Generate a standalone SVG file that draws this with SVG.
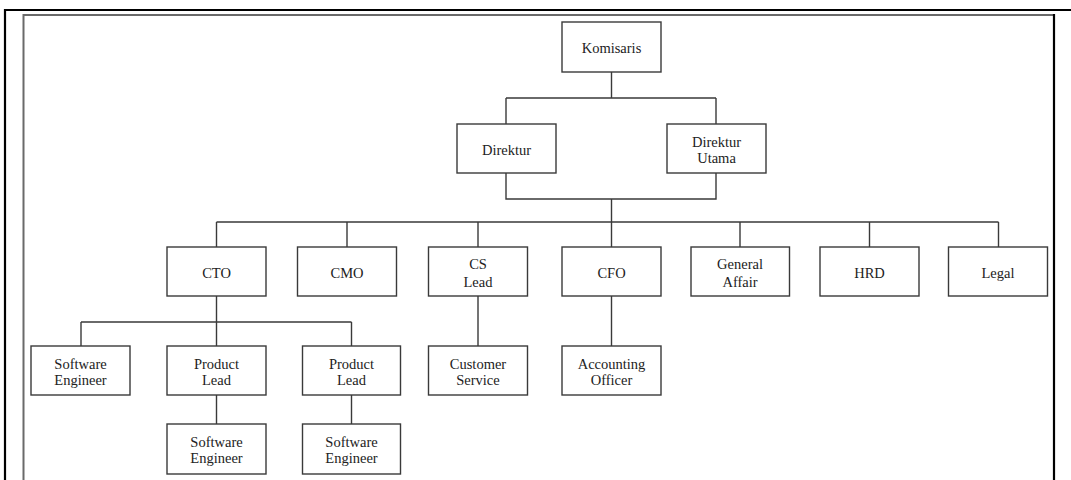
<svg xmlns="http://www.w3.org/2000/svg" width="1071" height="480" viewBox="0 0 1071 480">
<style>
.box{fill:#fff;stroke:#3a3a3a;stroke-width:1.4}
.t{font-family:"Liberation Serif","Times New Roman",serif;font-size:14.5px;fill:#222;text-anchor:middle}
.c{fill:none;stroke:#3a3a3a;stroke-width:1.4}
</style>
<rect width="1071" height="480" fill="#fff"/>
<g id="frame">
<path d="M5 480 V10 H1071" fill="none" stroke="#000" stroke-width="2.2"/>
<path d="M23.5 480 V15 H1054" fill="none" stroke="#6a6a6a" stroke-width="2"/>
<path d="M1054 14 V480" fill="none" stroke="#000" stroke-width="2.2"/>
</g>
<g id="connectors" class="c">
<path d="M611.5 72 V98 M506 98 H716 M506 98 V124 M716 98 V124"/>
<path d="M506 173 V199 H716 V173 M611.5 199 V222"/>
<path d="M216.5 222 H998.5 M216.5 222 V247 M347 222 V247 M478 222 V247 M611.5 222 V247 M740 222 V247 M869.5 222 V247 M998.5 222 V247"/>
<path d="M216.5 296 V322 M81 322 H351.5 M81 322 V346 M216.5 322 V346 M351.5 322 V346"/>
<path d="M216.5 395 V424 M351.5 395 V424"/>
<path d="M478 296 V346 M611.5 296 V346"/>
</g>
<g id="komisaris"><rect class="box" x="562" y="22" width="99" height="50"/><text class="t" x="611.5" y="53">Komisaris</text></g>
<g id="direktur"><rect class="box" x="457" y="124" width="99" height="49"/><text class="t" x="506.5" y="155">Direktur</text></g>
<g id="direktur-utama"><rect class="box" x="667" y="124" width="99" height="49"/><text class="t" x="716.5" y="146.5">Direktur</text><text class="t" x="716.5" y="163">Utama</text></g>
<g id="cto"><rect class="box" x="167" y="247" width="99" height="49"/><text class="t" x="216.5" y="278">CTO</text></g>
<g id="cmo"><rect class="box" x="297.5" y="247" width="99" height="49"/><text class="t" x="347" y="278">CMO</text></g>
<g id="cs-lead"><rect class="box" x="428.5" y="247" width="99" height="49"/><text class="t" x="478" y="269">CS</text><text class="t" x="478" y="286.5">Lead</text></g>
<g id="cfo"><rect class="box" x="562" y="247" width="99" height="49"/><text class="t" x="611.5" y="278">CFO</text></g>
<g id="general-affair"><rect class="box" x="691" y="247" width="98.5" height="49"/><text class="t" x="740" y="269">General</text><text class="t" x="740" y="286.5">Affair</text></g>
<g id="hrd"><rect class="box" x="820" y="247" width="99" height="49"/><text class="t" x="869.5" y="278">HRD</text></g>
<g id="legal"><rect class="box" x="948.5" y="247" width="99" height="49"/><text class="t" x="998" y="278">Legal</text></g>
<g id="software-engineer-1"><rect class="box" x="31" y="346" width="99" height="49"/><text class="t" x="80.5" y="369">Software</text><text class="t" x="80.5" y="385">Engineer</text></g>
<g id="product-lead-1"><rect class="box" x="167" y="346" width="99" height="49"/><text class="t" x="216.5" y="369">Product</text><text class="t" x="216.5" y="385">Lead</text></g>
<g id="product-lead-2"><rect class="box" x="302.5" y="346" width="98" height="49"/><text class="t" x="351.5" y="369">Product</text><text class="t" x="351.5" y="385">Lead</text></g>
<g id="customer-service"><rect class="box" x="428.5" y="346" width="99" height="49"/><text class="t" x="478" y="369">Customer</text><text class="t" x="478" y="385">Service</text></g>
<g id="accounting-officer"><rect class="box" x="562" y="346" width="99" height="49"/><text class="t" x="611.5" y="369">Accounting</text><text class="t" x="611.5" y="385">Officer</text></g>
<g id="software-engineer-2"><rect class="box" x="167" y="424" width="99" height="50"/><text class="t" x="216.5" y="447">Software</text><text class="t" x="216.5" y="463">Engineer</text></g>
<g id="software-engineer-3"><rect class="box" x="302.5" y="424" width="98" height="50"/><text class="t" x="351.5" y="447">Software</text><text class="t" x="351.5" y="463">Engineer</text></g>
</svg>
